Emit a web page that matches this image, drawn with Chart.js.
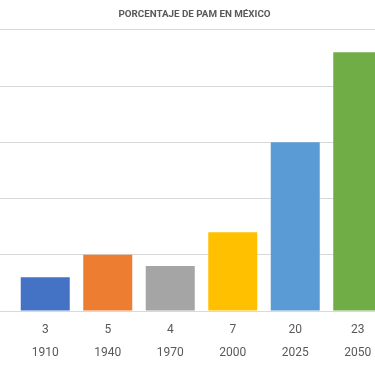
<!DOCTYPE html>
<html>
<head>
<meta charset="utf-8">
<script src="https://cdn.jsdelivr.net/npm/chart.js@4/dist/chart.umd.min.js"></script>
<style>
  html, body { margin:0; padding:0; background:#fff; overflow:hidden; }
  #wrap { width:375px; height:366px; overflow:hidden; }
</style>
</head>
<body>
<div id="wrap"><canvas id="chart-pam" width="390" height="374"></canvas></div>
<script>
// chart data
const TITLE = 'PORCENTAJE DE PAM EN MÉXICO';
const years = ['1910', '1940', '1970', '2000', '2025', '2050'];
const rowLabels = ['3', '5', '4', '7', '20', '23'];   // first row under the axis
const pamValues = [3, 5, 4, 7, 15, 23];               // bar heights as drawn
const barColors = ['#4472C4', '#ED7D31', '#A5A5A5', '#FFC000', '#5B9BD5', '#70AD47'];

const TXT = '#595959', GRID = '#d9d9d9';

// two-level category labels: value row + year row
const labels = years.map((y, i) => [rowLabels[i], y]);

const ctx = document.getElementById('chart-pam').getContext('2d');
new Chart(ctx, {
  type: 'bar',
  data: {
    labels,
    datasets: [{ data: pamValues, backgroundColor: barColors, borderWidth: 0,
                 barPercentage: 0.784, categoryPercentage: 1 }]
  },
  options: {
    responsive: false,
    animation: false,
    devicePixelRatio: 1,
    layout: { padding: { left: 0, right: 1, top: 0, bottom: 2 } },
    plugins: {
      legend: { display: false },
      tooltip: { enabled: false },
      title: {
        display: true, text: TITLE, color: TXT,
        font: { family: 'Roboto', size: 9.8, weight: 'bold', lineHeight: 1.2 },
        padding: { top: 9, bottom: 9 }
      }
    },
    scales: {
      x: {
        grid: { display: false, drawTicks: false },
        border: { display: false },
        ticks: { color: TXT, padding: 8, maxRotation: 0, autoSkip: false,
                 font: { family: 'Roboto', size: 12, lineHeight: '22.5px' } }
      },
      y: {
        min: 0, max: 25,
        ticks: { display: false, stepSize: 5 },
        grid: { color: GRID, lineWidth: 1, drawTicks: true, tickLength: 14 },
        border: { display: false }
      }
    }
  }
});
</script>
</body>
</html>
